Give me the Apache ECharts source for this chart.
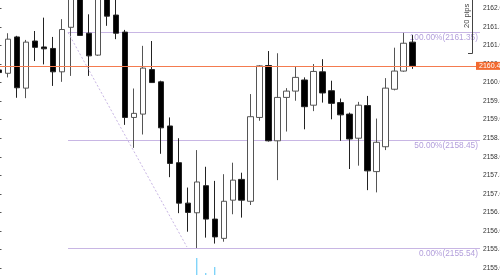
<!DOCTYPE html>
<html>
<head>
<meta charset="utf-8">
<script src="https://cdn.jsdelivr.net/npm/echarts@6/dist/echarts.min.js"></script>
<style>
  html, body { margin: 0; padding: 0; background: #fff; }
  #chart { width: 500px; height: 275px; }
</style>
</head>
<body>
<div id="chart"></div>
<script>
// bars, left to right
const opens = [2160.34, 2160.25, 2161.23, 2159.85, 2161.12, 2160.96, 2160.92, 2160.29, 2161.49, 2162.90,
  2161.33, 2160.74, 2162.63, 2161.82, 2161.36, 2159.06, 2159.15, 2160.35, 2160.02, 2158.83,
  2157.84, 2156.75, 2156.49, 2157.22, 2156.32, 2155.80, 2156.83, 2157.39, 2156.80, 2159.06,
  2160.46, 2158.43, 2159.60, 2159.77, 2160.07, 2159.39, 2160.29, 2159.78, 2159.46, 2159.15,
  2158.50, 2159.38, 2157.60, 2158.27, 2159.82, 2160.31, 2161.09];
const closes = [2160.27, 2161.17, 2159.86, 2161.09, 2160.95, 2160.91, 2160.29, 2161.43, 2162.90, 2161.27,
  2160.72, 2162.63, 2161.79, 2161.33, 2159.06, 2159.17, 2160.39, 2160.00, 2158.78, 2157.82,
  2156.75, 2156.50, 2157.32, 2156.32, 2155.84, 2156.80, 2157.37, 2156.83, 2159.08, 2160.45,
  2158.43, 2159.60, 2159.77, 2160.14, 2159.35, 2160.30, 2159.72, 2159.44, 2159.13, 2158.48,
  2159.39, 2157.62, 2158.39, 2159.85, 2160.31, 2161.06, 2160.45];
const lows = [2160.23, 2160.14, 2159.59, 2159.58, 2160.58, 2160.49, 2159.91, 2160.02, 2160.18, 2161.26,
  2160.18, 2160.72, 2161.53, 2161.17, 2158.86, 2158.24, 2158.60, 2159.99, 2158.08, 2157.45,
  2156.48, 2155.98, 2155.54, 2155.82, 2155.66, 2155.71, 2156.45, 2156.36, 2156.70, 2158.97,
  2158.41, 2157.37, 2158.68, 2159.51, 2158.74, 2159.23, 2159.46, 2159.01, 2158.43, 2157.67,
  2157.76, 2157.10, 2157.04, 2158.18, 2159.79, 2160.29, 2160.37];
const highs = [2160.39, 2161.33, 2161.26, 2161.15, 2161.39, 2161.75, 2161.23, 2161.71, 2163.03, 2162.98,
  2161.84, 2162.76, 2162.71, 2162.31, 2161.42, 2159.84, 2160.99, 2161.12, 2160.05, 2159.06,
  2158.50, 2157.17, 2158.18, 2157.73, 2157.35, 2157.53, 2157.84, 2157.57, 2159.69, 2160.47,
  2160.85, 2160.79, 2159.85, 2160.43, 2160.14, 2160.50, 2160.63, 2160.05, 2159.57, 2159.19,
  2159.48, 2159.64, 2159.03, 2160.12, 2160.94, 2161.34, 2161.28];
// tick volume, only the tops of three bars show above the bottom edge
const volumes = [null, null, null, null, null, null, null, null, null, null,
  null, null, null, null, null, null, null, null, null, null,
  null, null, 117, 102, 108, null, null, null, null, null,
  null, null, null, null, null, null, null, null, null, null,
  null, null, null, null, null, null, null];

const slotCount = 54;          // bars plus the empty room before the price scale
const lastPrice = 2160.45;

const fibPrices = [2161.35, 2158.45, 2155.54];
const fibPcts = ['100.00%', '50.00%', '0.00%'];
const fibFrom = 7.68, fibTo = 53.5;
const trendLine = [[7.68, 2161.35], [20.9, 2155.57]];

const pipsRange = [2160.80, 2162.80];

const priceMin = 2154.5, priceMax = 2162.5, priceStep = 0.5;

const slots = [];
for (let i = 0; i < slotCount; i++) slots.push(String(i));
const candleData = opens.map((o, i) => [o, closes[i], lows[i], highs[i]]);

const crisp = v => Math.round(v) + 0.5;
const font = '"Liberation Sans", Arial, sans-serif';

const chart = echarts.init(document.getElementById('chart'));
chart.setOption({
  animation: false,
  backgroundColor: '#fff',
  grid: [
    { left: -5.5, right: 20, top: -10.17, bottom: -11.6, outerBoundsMode: 'none', containLabel: false },
    { left: -5.5, right: 20, top: 175, bottom: -100, outerBoundsMode: 'none', containLabel: false }
  ],
  xAxis: [
    { type: 'category', gridIndex: 0, data: slots, show: false, boundaryGap: true },
    { type: 'value', gridIndex: 0, min: -0.5, max: slotCount - 0.5, show: false },
    { type: 'category', gridIndex: 1, data: slots, show: false, boundaryGap: true }
  ],
  yAxis: [
    {
      type: 'value', gridIndex: 0, position: 'right',
      min: priceMin, max: priceMax, interval: priceStep,
      splitLine: { show: false },
      axisLine: { show: true, lineStyle: { color: '#555', width: 1 } },
      axisTick: { show: true, length: 2.5, lineStyle: { color: '#555' } },
      axisLabel: {
        margin: 3, fontSize: 6.6, color: '#333', fontFamily: font,
        formatter: v => v.toFixed(2)
      }
    },
    { type: 'value', gridIndex: 1, min: 0, max: 200, show: false }
  ],
  series: [
    {
      type: 'bar', xAxisIndex: 2, yAxisIndex: 1,
      data: volumes, barWidth: 1,
      itemStyle: { color: '#4fc3f7' }
    },
    {
      type: 'custom', xAxisIndex: 1, yAxisIndex: 0,
      data: fibPrices.map(p => [p]),
      encode: { y: 0 },
      renderItem: (params, api) => {
        const p = api.value(0);
        const a = api.coord([fibFrom, p]);
        const b = api.coord([fibTo, p]);
        const y = crisp(a[1]);
        return {
          type: 'group',
          children: [
            { type: 'line', shape: { x1: a[0], y1: y, x2: b[0], y2: y },
              style: { stroke: '#c8b6e4', lineWidth: 1 } },
            { type: 'text',
              style: { text: fibPcts[params.dataIndex] + '(' + p.toFixed(2) + ')',
                x: b[0] - 2, y: y + 1, align: 'right', verticalAlign: 'top',
                fill: '#b29edb', font: '8.3px ' + font } }
          ]
        };
      }
    },
    {
      type: 'line', xAxisIndex: 1, yAxisIndex: 0,
      data: trendLine, symbol: 'none',
      lineStyle: { color: '#c8b6e4', width: 1, type: [2, 2] }
    },
    {
      type: 'custom', xAxisIndex: 1, yAxisIndex: 0,
      data: [pipsRange],
      encode: { y: [0, 1] },
      renderItem: (params, api) => {
        const lo = api.coord([52.64, api.value(0)]);
        const hi = api.coord([52.64, api.value(1)]);
        const left = api.coord([52.16, api.value(0)]);
        const x = crisp(lo[0]);
        const yb = crisp(lo[1]);
        return {
          type: 'group',
          children: [
            { type: 'polyline',
              shape: { points: [[Math.round(left[0]), yb], [x, yb], [x, hi[1]]] },
              style: { stroke: '#444', lineWidth: 1, fill: null } },
            { type: 'text', x: api.coord([52.1, 0])[0], y: (lo[1] + hi[1]) / 2, rotation: Math.PI / 2,
              style: { text: '20 pips', align: 'center', verticalAlign: 'middle',
                fill: '#444', font: '7.5px ' + font } }
          ]
        };
      }
    },
    {
      type: 'candlestick', xAxisIndex: 0, yAxisIndex: 0,
      data: candleData, barWidth: 6,
      itemStyle: {
        color: '#fff', color0: '#000',
        borderColor: '#555', borderColor0: '#222', borderWidth: 1
      },
      markLine: {
        silent: true, symbol: 'none',
        lineStyle: { color: '#f47b4f', width: 1, type: 'solid' },
        label: {
          show: true, position: 'end', distance: -4,
          formatter: lastPrice.toFixed(2),
          backgroundColor: '#f26a30', color: '#fff',
          fontSize: 7, fontFamily: font, padding: [1, 2, 0, 3]
        },
        data: [{ yAxis: lastPrice }]
      }
    }
  ]
});
</script>
</body>
</html>
